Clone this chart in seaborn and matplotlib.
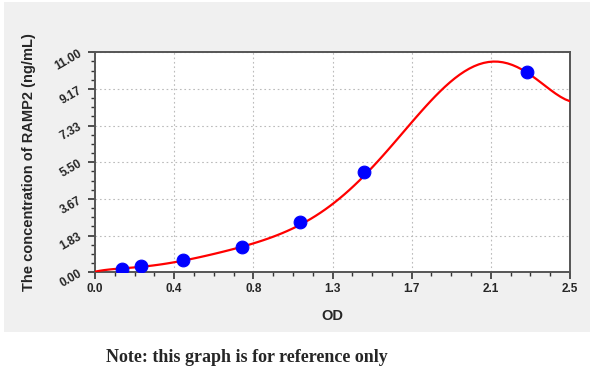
import numpy as np
import pandas as pd
import matplotlib
matplotlib.use("Agg")
import matplotlib.pyplot as plt
import seaborn as sns
from matplotlib.patches import Rectangle
from matplotlib.ticker import AutoMinorLocator

# standard curve points
od = [0.144, 0.240, 0.465, 0.772, 1.079, 1.417, 2.272]
conc = [0.156, 0.312, 0.625, 1.25, 2.5, 5.0, 10.0]

# fitted curve
fit_od = [0.0, 0.105, 0.21, 0.316, 0.421, 0.526, 0.632, 0.737, 0.842, 0.947,
          1.04, 1.132, 1.237, 1.342, 1.447, 1.553, 1.605, 1.658, 1.711, 1.816,
          1.921, 2.026, 2.096, 2.184, 2.289, 2.395, 2.5]
fit_conc = [0.05, 0.12, 0.25, 0.39, 0.54, 0.70, 0.90, 1.14, 1.45, 1.82,
            2.25, 2.72, 3.32, 4.08, 5.08, 6.22, 6.82, 7.40, 7.98, 9.10,
            9.93, 10.40, 10.52, 10.37, 9.87, 9.20, 8.53]

x_ticks = [0.0, 2.5 / 6, 2.5 / 3, 1.25, 2.5 * 2 / 3, 2.5 * 5 / 6, 2.5]
x_labels = ["0.0", "0.4", "0.8", "1.3", "1.7", "2.1", "2.5"]
y_ticks = [0.0, 11 / 6, 11 / 3, 5.5, 22 / 3, 55 / 6, 11.0]
y_labels = ["0.00", "1.83", "3.67", "5.50", "7.33", "9.17", "11.00"]

df = pd.DataFrame({"OD": od, "conc": conc})
fit = pd.DataFrame({"OD": fit_od, "conc": fit_conc})

sns.set_style("white")
plt.rcParams["font.family"] = ["Liberation Sans", "DejaVu Sans"]

fig = plt.figure(figsize=(6.0, 3.74), dpi=100)
fig.patch.set_facecolor("white")
fig.patches.append(Rectangle((4 / 600, 1 - 332 / 374), 586 / 600, 330 / 374,
                             transform=fig.transFigure, facecolor="#f0f0f0",
                             edgecolor="none", zorder=-10))

ax = fig.add_axes([95 / 600, 1 - 272.3 / 374, 475 / 600, 220 / 374])
ax.set_zorder(1)
ax.set_facecolor("white")

# smooth the read-off curve with a polynomial regression
sns.regplot(data=fit, x="OD", y="conc", order=8, ci=None, truncate=True,
            scatter=False, ax=ax, line_kws={"color": "#ff0000", "lw": 1.6, "zorder": 3})
sns.scatterplot(data=df, x="OD", y="conc", ax=ax, color="#0000ff", s=85,
                edgecolor="#0000ff", zorder=4)

ax.set_xlim(0, 2.5)
ax.set_ylim(0, 11)
ax.set_xticks(x_ticks)
ax.set_xticklabels(x_labels, fontsize=8.5, fontweight="bold")
ax.set_yticks(y_ticks)
ax.set_yticklabels(y_labels, fontsize=8.5, fontweight="bold", rotation=30)
ax.xaxis.set_minor_locator(AutoMinorLocator(4))
ax.yaxis.set_minor_locator(AutoMinorLocator(4))
ax.tick_params(which="major", direction="out", length=5, width=1.2, color="#333333",
               bottom=True, left=True, pad=3)
ax.tick_params(which="minor", direction="out", length=3, width=1.0, color="#333333",
               bottom=True, left=True)
ax.grid(True, which="major", linestyle=(0, (1.5, 2.5)), color="#bbbbbb", lw=0.8)
for s in ax.spines.values():
    s.set_color("#555555")
    s.set_linewidth(1.4)

ax.set_xlabel("OD", fontsize=10.5, fontweight="bold", labelpad=10)
ax.set_ylabel("The concentration of RAMP2 (ng/mL)", fontsize=10.5, fontweight="bold", labelpad=12)

fig.text(247 / 600, 1 - 357 / 374, "Note: this graph is for reference only",
         ha="center", va="center", fontsize=13, fontweight="bold",
         family=["Liberation Serif", "DejaVu Serif"])

fig.savefig("out.png", dpi=100)
